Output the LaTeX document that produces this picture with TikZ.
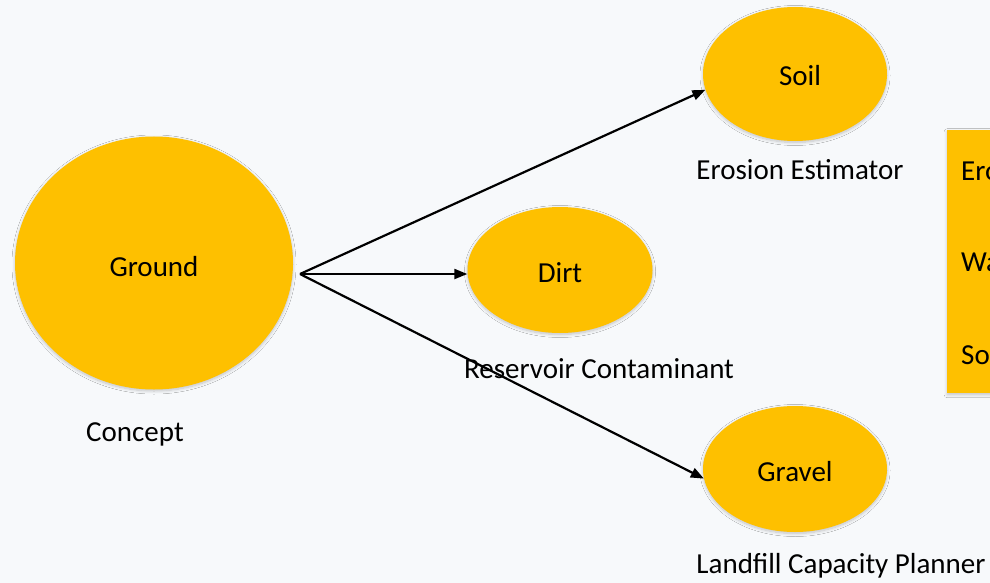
\documentclass[tikz,border=0pt]{standalone}
\usepackage{fontspec}
\setmainfont{Carlito}
\usetikzlibrary{shapes.geometric,arrows.meta,shadows.blur}
\definecolor{bgcol}{HTML}{F7F9FB}
\definecolor{gold}{HTML}{FEC000}
\tikzset{
  soft/.style={blur shadow={shadow xshift=0pt, shadow yshift=-1.5pt,
      shadow blur radius=3pt, shadow blur steps=8, shadow opacity=22}},
  blob/.style={ellipse, fill=gold, draw=none, inner sep=0pt, soft,
      font=\fontsize{29}{34}\selectfont},
  caption/.style={font=\fontsize{29}{34}\selectfont, inner sep=0pt},
  panel/.style={rectangle, fill=gold, draw=none, inner sep=0pt, soft},
  link/.style={line width=2.2pt, -{Triangle[length=13pt,width=10pt]}},
}
\begin{document}
\begin{tikzpicture}[x=1pt,y=-1pt]
  \useasboundingbox (0,0) rectangle (990,583);
  \fill[bgcol] (0,0) rectangle (990,583);
  \clip (0,0) rectangle (990,583);

  % concept and its three specialisations
  \node[blob, minimum width=278pt, minimum height=253pt] (ground) at (154,263) {};
  \node[blob, minimum width=184pt, minimum height=134pt] (soil) at (795,74) {};
  \node[blob, minimum width=185pt, minimum height=126pt] (dirt) at (560,270) {};
  \node[blob, minimum width=184pt, minimum height=126pt] (gravel) at (795,469) {};

  % names set inside the ellipses
  \node[caption] (tground) at (154,267) {Ground};
  \node[caption] (tsoil) at (800,76) {Soil};
  \node[caption] (tdirt) at (560,273) {Dirt};
  \node[caption] (tgravel) at (795,472) {Gravel};

  % captions under the ellipses
  \node[caption] (cconcept) at (135,434) {Concept};
  \node[caption] (csoil) at (800,170) {Erosion Estimator};
  \node[caption] (cdirt) at (599,369) {Reservoir Contaminant};
  \node[caption] (cgravel) at (841,566) {Landfill Capacity Planner};

  % side panel running off the right edge
  \node[panel, anchor=north west, minimum width=90pt, minimum height=263pt] (side) at (947,130) {};
  \node[caption, anchor=west] (s1) at (961,171) {Ero};
  \node[caption, anchor=west] (s2) at (961,262) {Wa};
  \node[caption, anchor=west] (s3) at (961,355) {So};

  % fan of arrows from a common hub
  \coordinate (hub) at (300,274);
  \draw[link] (hub) -- (soil.190);
  \draw[link] (hub) -- (hub -| dirt.west);
  \draw[link] (hub) -- (gravel.186);
\end{tikzpicture}
\end{document}
